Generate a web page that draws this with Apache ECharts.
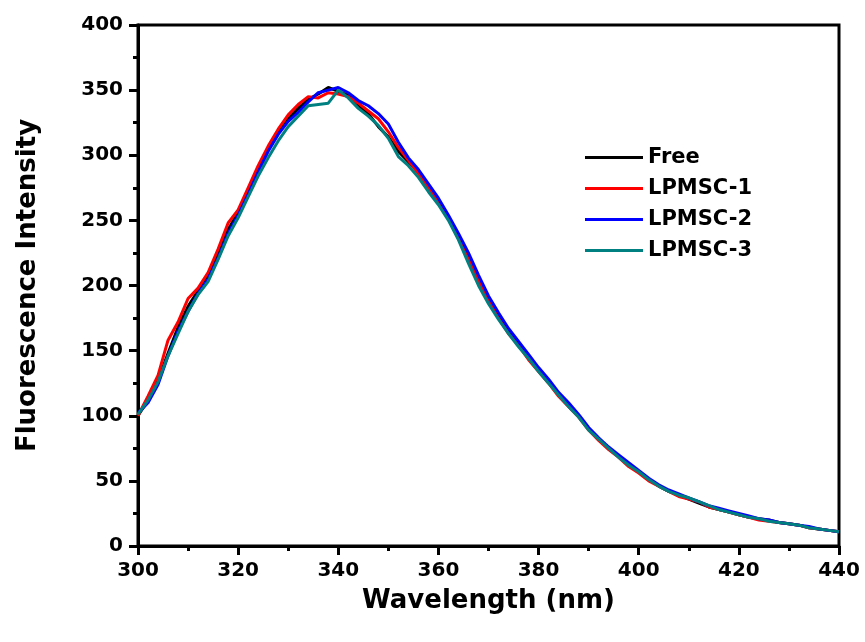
<!DOCTYPE html>
<html>
<head>
<meta charset="utf-8">
<script src="https://cdn.jsdelivr.net/npm/echarts@6/dist/echarts.min.js"></script>
<style>html,body{margin:0;padding:0;background:#fff;}#c{width:865px;height:642px;}</style>
</head>
<body>
<div id="c"></div>
<script>
const wavelengths = [];
for (let w = 300; w <= 440; w += 2) wavelengths.push(w);
const seriesNames = ['Free', 'LPMSC-1', 'LPMSC-2', 'LPMSC-3'];
const free = [100,112,127,148,168,184,196,207,224,243,256,272,289,305,318,328,336,343,347,352,349,346,338,332,322,314,303,295,287,276,265,252,237,222,205,190,176,165,155,145,135,126,116,108,100,90,82,75,69,63,57,51,46,42,39,36,33,30,28,26,24,22,21,20,18,17,16,14,13,12,11];
const lpmsc1 = [100,115,131,158,172,190,198,210,228,248,258,275,292,307,320,331,339,345,344,348,347,345,340,334,328,318,306,296,286,275,264,251,236,220,204,189,175,163,154,143,134,125,115,107,99,89,81,74,68,61,56,50,46,42,38,36,34,30,28,26,24,22,20,19,18,17,16,14,13,12,11];
const lpmsc2 = [102,110,124,146,165,180,194,205,221,240,254,270,287,303,316,326,333,341,348,350,352,348,342,338,332,324,310,298,289,278,267,254,240,225,208,192,179,167,157,147,137,128,118,110,101,91,83,76,70,64,58,52,47,43,40,37,34,31,29,27,25,23,21,20,18,17,16,15,13,12,11];
const lpmsc3 = [101,112,126,146,163,180,193,203,220,238,252,268,284,298,311,322,330,338,339,340,350,344,336,330,323,313,299,292,283,272,262,250,235,217,200,186,174,163,153,144,134,125,116,107,99,89,82,75,68,62,57,51,46,42,39,37,34,31,28,26,24,22,21,19,18,17,16,14,13,12,11];
const allValues = [free, lpmsc1, lpmsc2, lpmsc3];
const colors = ['#000000', '#ff0000', '#0000ff', '#008080'];

const font = 'DejaVu Sans, sans-serif';
const chart = echarts.init(document.getElementById('c'));
chart.setOption({
  animation: false,
  backgroundColor: '#fff',
  grid: { left: 138, right: 26, top: 25, bottom: 96, show: true, borderColor: '#000', borderWidth: 3, containLabel: false },
  legend: {
    data: seriesNames,
    orient: 'vertical',
    left: 580, top: 142,
    itemWidth: 58, itemHeight: 14, itemGap: 10,
    icon: 'path://M0,6 L58,6 L58,9 L0,9 Z',
    textStyle: { fontFamily: font, fontWeight: 'bold', fontSize: 21, color: '#000' }
  },
  xAxis: {
    type: 'value', min: 300, max: 440, interval: 20,
    name: 'Wavelength (nm)', nameLocation: 'middle', nameGap: 42,
    nameTextStyle: { fontFamily: font, fontWeight: 'bold', fontSize: 26, color: '#000' },
    axisLine: { show: true, lineStyle: { color: '#000', width: 3 } },
    axisTick: { show: true, inside: false, length: 9, lineStyle: { color: '#000', width: 3 } },
    minorTick: { show: true, splitNumber: 2, length: 5, lineStyle: { color: '#000', width: 3 } },
    axisLabel: { fontFamily: font, fontWeight: 'bold', fontSize: 20, color: '#000', margin: 15 },
    splitLine: { show: false }
  },
  yAxis: {
    type: 'value', min: 0, max: 400, interval: 50,
    name: 'Fluorescence Intensity', nameLocation: 'middle', nameGap: 97,
    nameTextStyle: { fontFamily: font, fontWeight: 'bold', fontSize: 26, color: '#000' },
    axisLine: { show: true, lineStyle: { color: '#000', width: 3 } },
    axisTick: { show: true, inside: false, length: 9, lineStyle: { color: '#000', width: 3 } },
    minorTick: { show: true, splitNumber: 2, length: 5, lineStyle: { color: '#000', width: 3 } },
    axisLabel: { fontFamily: font, fontWeight: 'bold', fontSize: 20, color: '#000', margin: 15 },
    splitLine: { show: false }
  },
  series: seriesNames.map((n, i) => ({
    name: n, type: 'line', showSymbol: false, symbol: 'none',
    data: wavelengths.map((w, j) => [w, allValues[i][j]]),
    lineStyle: { color: colors[i], width: 3 },
    itemStyle: { color: colors[i] }
  }))
});
</script>
</body>
</html>
